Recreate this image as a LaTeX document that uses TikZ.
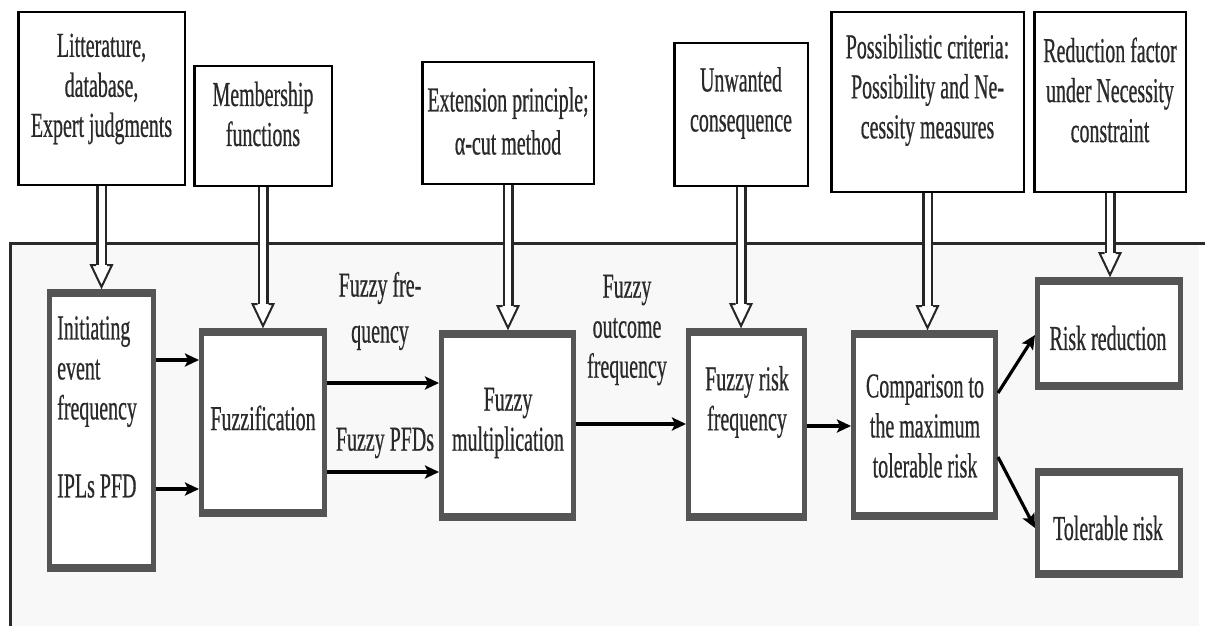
\documentclass[tikz,border=0pt]{standalone}
\usepackage{fontspec}
\setmainfont{Liberation Serif}[FakeStretch=0.57,FakeBold=0.5]
\usetikzlibrary{arrows.meta,calc}
\definecolor{ink}{HTML}{2A2A2A}
\definecolor{frame}{HTML}{555555}
\definecolor{panel}{HTML}{F8F8F8}

% hollow feed arrow from an input box down to a process box
\newcommand\feed[2]{%
  \coordinate (#1-tip) at (#1.south |- #2.north);
  \draw[shaft] (#1.south) -- ([yshift=24pt]#1-tip);
  \filldraw[hollowhead] ([shift={(-5.5pt,24pt)}]#1-tip) -- ([shift={(-10.5pt,24pt)}]#1-tip)
    -- ([yshift=2pt]#1-tip) -- ([shift={(10.5pt,24pt)}]#1-tip) -- ([shift={(5.5pt,24pt)}]#1-tip);
}

\begin{document}
\begin{tikzpicture}[x=1pt,y=-1pt,
  txt/.style={font=\fontsize{35pt}{40pt}\selectfont, text=ink, align=center, inner sep=0pt},
  topbox/.style={draw=black, line width=2.5pt, fill=white, inner sep=0pt},
  lowbox/.style={draw=frame, line width=5pt, fill=white, inner sep=0pt},
  flow/.style={line width=3.2pt, draw=black, -{Stealth[length=14pt,width=13pt,inset=3pt]}},
  shaft/.style={draw=black!85, line width=2.5pt, double=white, double distance=6pt},
  hollowhead/.style={draw=black!85, line width=2pt, fill=white, line join=miter},
]
\useasboundingbox (0,0) rectangle (1205,626);

% shaded process area
\fill[panel] (10,243) rectangle (1199,626);
\draw[ink, line width=3pt] (1205,243) -- (10,243) -- (10,626);

% input boxes
\node[topbox, minimum width=166.5pt, minimum height=172.5pt] (lit) at (101.5,98.5) {};
\node[topbox, minimum width=137.5pt, minimum height=119.5pt] (mem) at (263,126) {};
\node[topbox, minimum width=171.5pt, minimum height=121.5pt] (ext) at (508,123) {};
\node[topbox, minimum width=133.5pt, minimum height=142.5pt] (unw) at (741,114.5) {};
\node[topbox, minimum width=192.5pt, minimum height=179.5pt] (pos) at (927.5,102) {};
\node[topbox, minimum width=151.5pt, minimum height=179.5pt] (red) at (1110,102) {};

\node[txt] (lit-t) at (101.5,89) {Litterature,\\database,\\Expert judgments};
\node[txt] (mem-t) at (263,114) {Membership\\functions};
\node[txt] (ext-t) at (508,121) {Extension principle;\\[3pt]α-cut method};
\node[txt] (unw-t) at (741,103) {Unwanted\\consequence};
\node[txt] (pos-t) at (927.5,90) {Possibilistic criteria:\\Possibility and Ne-\\cessity measures};
\node[txt] (red-t) at (1110,90) {Reduction factor\\under Necessity\\constraint};

% process boxes
\node[lowbox, minimum width=104pt, minimum height=278pt] (init) at (101.5,430.5) {};
\node[lowbox, minimum width=123pt, minimum height=184pt] (fuzz) at (263,422.5) {};
\node[lowbox, minimum width=132pt, minimum height=186pt] (mult) at (507.5,425.5) {};
\node[lowbox, minimum width=116pt, minimum height=188pt] (risk) at (746.5,424.5) {};
\node[lowbox, minimum width=142pt, minimum height=185pt] (comp) at (924.5,425) {};
\node[lowbox, minimum width=143pt, minimum height=108pt] (rr) at (1109,333.5) {};
\node[lowbox, minimum width=143pt, minimum height=105pt] (tol) at (1109,523) {};

% heavier top and bottom edges of the process boxes
\foreach \n in {init,fuzz,mult,risk,comp,rr,tol}{
  \fill[frame] (\n.north west) rectangle ([yshift=-8pt]\n.north east);
  \fill[frame] (\n.south west) rectangle ([yshift=8pt]\n.south east);
}

\node[txt, align=left, anchor=west] (init-t) at (57,407) {Initiating\\event\\frequency\\[38pt]IPLs PFD};
\node[txt] (fuzz-t) at (263,418) {Fuzzification};
\node[txt] (mult-t) at (508,423) {Fuzzy\\multiplication};
\node[txt] (risk-t) at (747,402) {Fuzzy risk\\frequency};
\node[txt] (comp-t) at (925,426) {Comparison to\\the maximum\\tolerable risk};
\node[txt] (rr-t) at (1108,338) {Risk reduction};
\node[txt] (tol-t) at (1108,528) {Tolerable risk};

% flow labels
\node[txt] (ff-l) at (380,311) {Fuzzy fre-\\[6pt]quency};
\node[txt] (pfd-l) at (385,443) {Fuzzy PFDs};
\node[txt] (out-l) at (627,330) {Fuzzy\\outcome\\frequency};

% input feeds
\feed{lit}{init}
\feed{mem}{fuzz}
\feed{ext}{mult}
\feed{unw}{risk}
\feed{pos}{comp}
\feed{red}{rr}

% main flow
\draw[flow] (init.east |- 0,360) -- (fuzz.west |- 0,360);
\draw[flow] (init.east |- 0,489) -- (fuzz.west |- 0,489);
\draw[flow] (fuzz.east |- 0,383) -- (mult.west |- 0,383);
\draw[flow] (fuzz.east |- 0,472) -- (mult.west |- 0,472);
\draw[flow] (mult.east |- 0,424) -- (risk.west |- 0,424);
\draw[flow] (risk.east |- 0,426) -- (comp.west |- 0,426);
\draw[flow] (comp.east |- 0,393) -- (rr.west |- 0,335);
\draw[flow] (comp.east |- 0,457) -- (tol.west |- 0,528);
\end{tikzpicture}
\end{document}
